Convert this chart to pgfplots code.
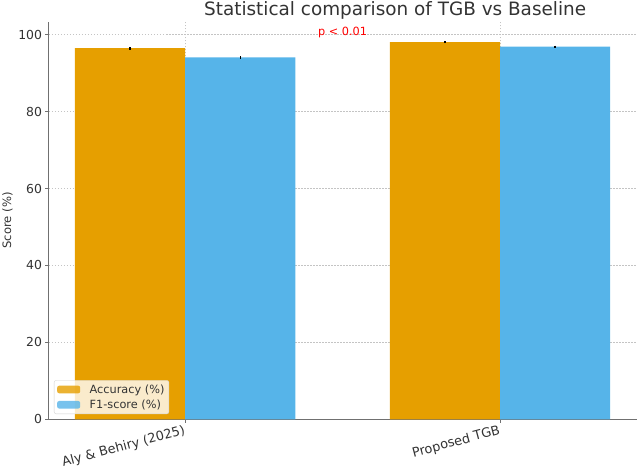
\documentclass[border=0pt]{standalone}
\usepackage{fontspec}
\setmainfont{DejaVu Sans}
\usepackage{pgfplots}
\pgfplotsset{compat=1.18}

\definecolor{accorange}{HTML}{E69F00}
\definecolor{f1blue}{HTML}{56B4E9}
\definecolor{spine}{HTML}{707070}
\definecolor{txt}{HTML}{333333}
\definecolor{gridgray}{HTML}{C4C4C4}

\begin{document}
\begin{tikzpicture}
\begin{axis}[
  scale only axis,
  width=588pt, height=397.6pt,
  xmin=-0.432, xmax=1.435,
  ymin=0, ymax=103.4,
  clip=false,
  axis x line*=bottom, axis y line*=left,
  axis line style={spine, line width=1pt},
  xtick={0,1},
  xticklabels={Aly \& Behiry (2025), Proposed TGB},
  x tick label style={rotate=15, anchor=north east, inner sep=2pt, yshift=1pt, font=\fontsize{12.9}{15}\selectfont, text=txt},
  ytick={0,20,40,60,80,100},
  y tick label style={font=\fontsize{12.4}{14}\selectfont, text=txt},
  /pgf/number format/assume math mode=true,
  tick style={spine, line width=0.8pt},
  tick align=outside,
  major tick length=3.5pt,
  grid=major,
  major grid style={gridgray, line width=0.6pt, dash pattern=on 1.5pt off 1.5pt},
  ylabel={Score (\%)},
  ylabel style={font=\fontsize{11.6}{13}\selectfont, text=txt, anchor=center, at={(axis description cs:-0.0705,0.5)}},
  ybar, bar width=0.35, bar shift=0pt,
  legend style={
    at={(0.0085,0.0133)}, anchor=south west,
    fill=white, fill opacity=0.8, text opacity=1,
    draw=gray!35, rounded corners=2pt,
    font=\fontsize{11.3}{13}\selectfont, text=txt,
    row sep=2.2pt, inner xsep=3pt, inner ysep=2.5pt,
    nodes={inner sep=1.5pt}
  },
  legend cell align=left,
  legend image code/.code={%
    \fill[#1] (0pt,-3.8pt) rectangle (23pt,3.8pt);
    \path (31pt,0pt);},
  error bars/y dir=both, error bars/y explicit,
  error bars/error mark=none,
  error bars/error bar style={black, line width=1.3pt},
]
% Accuracy bars (left of each group)
\addplot[fill=accorange, draw=none] coordinates {
  (-0.175,96.5) +- (0,0.35)
  (0.825,98.1) +- (0,0.3)
};
\addlegendentry{Accuracy (\%)}
% F1-score bars (right of each group)
\addplot[fill=f1blue, draw=none] coordinates {
  (0.175,94.1) +- (0,0.35)
  (1.175,96.9) +- (0,0.3)
};
\addlegendentry{F1-score (\%)}

\node[text=red, font=\fontsize{11.3}{13}\selectfont, anchor=base] at (axis cs:0.5,99.9) {p < 0.01};
\node[font=\fontsize{18.4}{20}\selectfont, text=txt, anchor=base] at (axis cs:0.667,105.1) {Statistical comparison of TGB vs Baseline};
\end{axis}
\pgfresetboundingbox
\useasboundingbox (-49pt,-50.7pt) rectangle (589pt,419.3pt);
\end{tikzpicture}
\end{document}
